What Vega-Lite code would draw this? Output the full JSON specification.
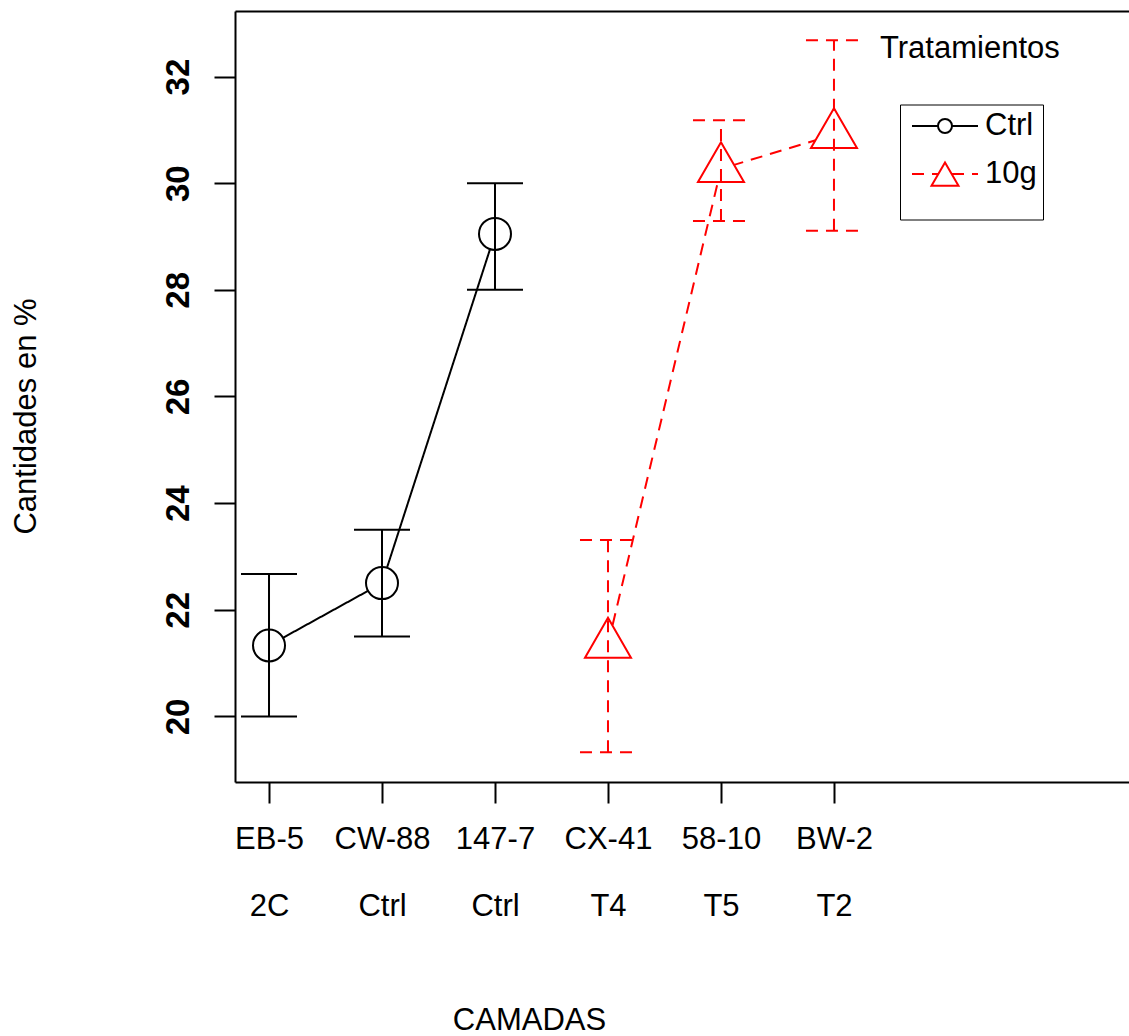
{
  "$schema": "https://vega.github.io/schema/vega-lite/v6.json",
  "width": 894,
  "height": 771,
  "autosize": {"type": "none"},
  "padding": {"left": 235, "top": 11, "right": 0, "bottom": 254},
  "background": "white",
  "config": {
    "font": "Liberation Sans",
    "view": {"stroke": null},
    "axis": {
      "domainColor": "#000000",
      "domainWidth": 2,
      "tickColor": "#000000",
      "tickWidth": 2,
      "tickSize": 21,
      "labelColor": "#000000",
      "titleColor": "#000000",
      "grid": false,
      "labelFont": "Liberation Sans",
      "titleFont": "Liberation Sans",
      "titleFontWeight": "normal",
      "labelOverlap": false
    },
    "legend": {"labelFont": "Liberation Sans", "titleFont": "Liberation Sans"}
  },
  "title": {
    "text": "Tratamientos",
    "anchor": "start",
    "frame": "group",
    "orient": "top",
    "offset": 0,
    "dx": 645,
    "dy": 78,
    "fontSize": 31,
    "fontWeight": "normal",
    "color": "#000000",
    "baseline": "alphabetic",
    "font": "Liberation Sans"
  },
  "datasets": {
    "camadas": [
      {"idx": 1, "camada": "EB-5", "tratamiento": "2C", "grupo": "Ctrl", "media": 21.33, "inferior": 20.0, "superior": 22.67},
      {"idx": 2, "camada": "CW-88", "tratamiento": "Ctrl", "grupo": "Ctrl", "media": 22.5, "inferior": 21.5, "superior": 23.5},
      {"idx": 3, "camada": "147-7", "tratamiento": "Ctrl", "grupo": "Ctrl", "media": 29.05, "inferior": 28.0, "superior": 30.0},
      {"idx": 4, "camada": "CX-41", "tratamiento": "T4", "grupo": "10g", "media": 21.35, "inferior": 19.33, "superior": 23.31},
      {"idx": 5, "camada": "58-10", "tratamiento": "T5", "grupo": "10g", "media": 30.27, "inferior": 29.29, "superior": 31.18},
      {"idx": 6, "camada": "BW-2", "tratamiento": "T2", "grupo": "10g", "media": 30.91, "inferior": 29.11, "superior": 32.68}
    ]
  },
  "data": {"name": "camadas"},
  "resolve": {"axis": {"x": "independent"}},
  "layer": [
    {
      "mark": {"type": "line", "strokeWidth": 2},
      "encoding": {
        "x": {
          "field": "idx", "type": "quantitative",
          "scale": {"domain": [0.699, 8.611], "nice": false, "zero": false},
          "axis": {
            "title": "CAMADAS",
            "values": [1, 2, 3, 4, 5, 6],
            "labelExpr": "[data('camadas')[datum.value - 1].camada, data('camadas')[datum.value - 1].tratamiento]",
            "labelFontSize": 31,
            "labelLineHeight": 67,
            "labelBaseline": "top",
            "labelAlign": "center",
            "labelAngle": 0,
            "labelPadding": 21,
            "labelFlush": false,
            "titleFontSize": 31,
            "titleBaseline": "alphabetic",
            "titleAlign": "center",
            "titleX": 294,
            "titleY": 247
          }
        },
        "y": {
          "field": "media", "type": "quantitative",
          "scale": {"domain": [18.77, 33.23], "nice": false, "zero": false},
          "axis": {
            "title": "Cantidades en %",
            "values": [20, 22, 24, 26, 28, 30, 32],
            "labelAngle": 270,
            "labelAlign": "center",
            "labelBaseline": "alphabetic",
            "labelFontWeight": "bold",
            "labelFontSize": 33,
            "labelPadding": 26,
            "titleAngle": 270,
            "titleAlign": "center",
            "titleBaseline": "alphabetic",
            "titleX": -200,
            "titleY": 405,
            "titleFontSize": 31
          }
        },
        "color": {
          "field": "grupo", "type": "nominal",
          "scale": {"domain": ["Ctrl", "10g"], "range": ["#000000", "#FF0000"]},
          "legend": {
            "orient": "none", "legendX": 665, "legendY": 93.5,
            "title": " ", "titleOrient": "bottom", "titleFontSize": 16, "titlePadding": 8,
            "strokeColor": "#000000", "fillColor": "#FFFFFF", "padding": 6,
            "symbolType": "M-3,0L3,0", "symbolSize": 484, "symbolStrokeWidth": 2,
            "symbolOffset": 23.5, "symbolFillColor": "transparent",
            "labelOffset": 24.5, "labelFontSize": 31, "labelColor": "#000000", "rowPadding": 16,
            "encode": {"legend": {"strokeWidth": {"value": 2}}}
          }
        },
        "strokeDash": {
          "field": "grupo", "type": "nominal",
          "scale": {"domain": ["Ctrl", "10g"], "range": [[1, 0], [12, 8]]},
          "legend": {
            "orient": "none", "legendX": 665, "legendY": 93.5,
            "title": " ", "titleOrient": "bottom", "titleFontSize": 16, "titlePadding": 8,
            "strokeColor": "#000000", "fillColor": "#FFFFFF", "padding": 6,
            "symbolType": "M-3,0L3,0", "symbolSize": 484, "symbolStrokeWidth": 2,
            "symbolOffset": 23.5, "symbolFillColor": "transparent",
            "labelOffset": 24.5, "labelFontSize": 31, "labelColor": "#000000", "rowPadding": 16,
            "encode": {"legend": {"strokeWidth": {"value": 2}}}
          }
        }
      }
    },
    {
      "mark": {"type": "point", "filled": true, "fill": "#FFFFFF", "strokeWidth": 2, "opacity": 1},
      "encoding": {
        "x": {
          "field": "idx", "type": "quantitative",
          "axis": {"orient": "top", "labels": false, "ticks": false, "title": null, "domain": true, "grid": false}
        },
        "y": {"field": "media", "type": "quantitative"},
        "stroke": {
          "field": "grupo", "type": "nominal", "sort": null,
          "scale": {"range": ["#000000", "#FF0000"]},
          "legend": {
            "orient": "none", "legendX": 665, "legendY": 93.5, "title": null, "padding": 6,
            "symbolOffset": 23.5, "symbolFillColor": "#FFFFFF", "symbolStrokeWidth": 2,
            "symbolSize": {"expr": "datum.value === 'Ctrl' ? 196 : 729"},
            "labelExpr": "''",
            "labelOffset": 24.5, "labelFontSize": 31, "labelOpacity": 0, "rowPadding": 16
          }
        },
        "shape": {
          "field": "grupo", "type": "nominal", "sort": null,
          "scale": {"range": ["circle", "M0,-1.155L1,0.577L-1,0.577Z"]},
          "legend": {
            "orient": "none", "legendX": 665, "legendY": 93.5, "title": null, "padding": 6,
            "symbolOffset": 23.5, "symbolFillColor": "#FFFFFF", "symbolStrokeWidth": 2,
            "symbolSize": {"expr": "datum.value === 'Ctrl' ? 196 : 729"},
            "labelExpr": "''",
            "labelOffset": 24.5, "labelFontSize": 31, "labelOpacity": 0, "rowPadding": 16
          }
        },
        "size": {
          "condition": {"test": "datum.grupo === 'Ctrl'", "value": 1024},
          "value": 2116
        }
      }
    },
    {
      "mark": {"type": "rule", "strokeWidth": 2},
      "encoding": {
        "x": {"field": "idx", "type": "quantitative", "axis": null},
        "y": {"field": "inferior", "type": "quantitative"},
        "y2": {"field": "superior"},
        "color": {"field": "grupo", "type": "nominal", "legend": null},
        "strokeDash": {"field": "grupo", "type": "nominal", "legend": null}
      }
    },
    {
      "mark": {"type": "rule", "strokeWidth": 2, "xOffset": -28, "x2Offset": 28},
      "encoding": {
        "x": {"field": "idx", "type": "quantitative", "axis": null},
        "x2": {"field": "idx"},
        "y": {"field": "inferior", "type": "quantitative"},
        "color": {"field": "grupo", "type": "nominal", "legend": null},
        "strokeDash": {"field": "grupo", "type": "nominal", "legend": null}
      }
    },
    {
      "mark": {"type": "rule", "strokeWidth": 2, "xOffset": -28, "x2Offset": 28},
      "encoding": {
        "x": {"field": "idx", "type": "quantitative", "axis": null},
        "x2": {"field": "idx"},
        "y": {"field": "superior", "type": "quantitative"},
        "color": {"field": "grupo", "type": "nominal", "legend": null},
        "strokeDash": {"field": "grupo", "type": "nominal", "legend": null}
      }
    }
  ]
}
